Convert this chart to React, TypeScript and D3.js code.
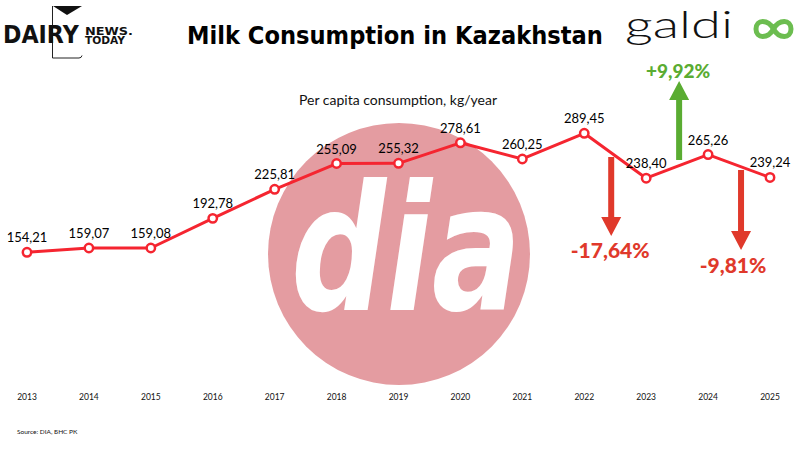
import React from "react";
import * as d3 from "d3";

const years = ["2013","2014","2015","2016","2017","2018","2019","2020","2021","2022","2023","2024","2025"];
const values = [154.21,159.07,159.08,192.78,225.81,255.09,255.32,278.61,260.25,289.45,238.40,265.26,239.24];
const valueLabels = ["154,21","159,07","159,08","192,78","225,81","255,09","255,32","278,61","260,25","289,45","238,40","265,26","239,24"];
// annotations: change between two years
const changes = [
  { from: "2022", to: "2023", label: "-17,64%", dir: "down" },
  { from: "2023", to: "2024", label: "+9,92%", dir: "up" },
  { from: "2024", to: "2025", label: "-9,81%", dir: "down" },
];

const W = 800, H = 451;
const RED = "#f52530";
const ARROW_RED = "#e0392b";
const GREEN = "#5aac32";

export default function App() {
  const x = d3.scalePoint<string>().domain(years).range([27, 770]);
  const y = d3.scaleLinear().domain([0, 300]).range([388, 124]);
  const data = years.map((yr, i) => ({ yr, v: values[i], lab: valueLabels[i] }));
  const line = d3.line<{ yr: string; v: number }>().x(d => x(d.yr)!).y(d => y(d.v));

  const arrow = (cx: number, y1: number, y2: number, color: string, up: boolean, key: string) => {
    const hw = 10, sw = 3, hl = 19;
    const pts = up
      ? [[cx - sw, y1], [cx - sw, y2 + hl], [cx - hw, y2 + hl], [cx, y2], [cx + hw, y2 + hl], [cx + sw, y2 + hl], [cx + sw, y1]]
      : [[cx - sw, y1], [cx - sw, y2 - hl], [cx - hw, y2 - hl], [cx, y2], [cx + hw, y2 - hl], [cx + sw, y2 - hl], [cx + sw, y1]];
    return <polygon key={key} points={pts.map(p => p.join(",")).join(" ")} fill={color} />;
  };

  const mid = (a: string, b: string) => (x(a)! + x(b)!) / 2;

  return (
    <svg width={W} height={H} style={{ position: "absolute", left: 0, top: 0, background: "#fff" }}
      fontFamily="Lato, 'DejaVu Sans', sans-serif">
      <rect width={W} height={H} fill="#fff" />
      {/* DIA watermark */}
      <circle cx={399} cy={254} r={131} fill="#e49ca1" />
      <text transform="translate(291,310) scale(1,1.32)" fill="#fff" fontSize={133} fontWeight={700} fontStyle="italic"
        fontFamily="'DejaVu Sans', sans-serif">dia</text>

      {/* Dairy News Today logo */}
      <line x1={52.5} y1={6} x2={52.5} y2={58} stroke="#222" strokeWidth={1} />
      <polygon points="53,6 82,6 67,15" fill="#111" />
      <path d="M52.5,58 L79,58 Q81.5,58 82,55.5" fill="none" stroke="#222" strokeWidth={1} />
      <text transform="translate(3,43) scale(1,1.13)" fontSize={22.2} fontWeight={900} fill="#111"
        fontFamily="'DejaVu Sans', sans-serif">DAIRY</text>
      <text x={85} y={34.5} fontSize={10} fontWeight={700} fill="#111" fontFamily="'DejaVu Sans', sans-serif"
        textLength={48} lengthAdjust="spacingAndGlyphs">NEWS.</text>
      <text x={85} y={44} fontSize={10} fontWeight={700} fill="#111" fontFamily="'DejaVu Sans', sans-serif"
        textLength={40} lengthAdjust="spacingAndGlyphs">TODAY</text>

      {/* Title */}
      <text transform="translate(187,44) scale(1,1.1)" fontSize={22.6} fontWeight={900} fill="#000"
        fontFamily="'DejaVu Sans', sans-serif">Milk Consumption in Kazakhstan</text>

      {/* galdi logo */}
      <text x={625} y={38} fontSize={37} fontWeight={300} fill="#111" fontFamily="Lato, sans-serif"
        textLength={108} lengthAdjust="spacingAndGlyphs">galdi</text>
      <path d="M773.5,29 C768,19 756,19 756,29 C756,39 768,39 773.5,29 C779,19 791,19 791,29 C791,39 779,39 773.5,29 Z"
        fill="none" stroke="#6cbd50" strokeWidth={5} />

      {/* Subtitle */}
      <text x={398} y={105} textAnchor="middle" fontSize={14} fill="#111">Per capita consumption, kg/year</text>

      {/* Line */}
      <path d={line(data)!} fill="none" stroke={RED} strokeWidth={3} strokeLinejoin="round" />
      {data.map(d => (
        <circle key={d.yr} cx={x(d.yr)} cy={y(d.v)} r={4.2} fill="#fff" stroke={RED} strokeWidth={2.5} />
      ))}
      {data.map(d => (
        <text key={"l" + d.yr} x={x(d.yr)} y={y(d.v) - 10} textAnchor="middle" fontSize={13} fill="#000">{d.lab}</text>
      ))}

      {/* Year axis labels */}
      {years.map(yr => (
        <text key={"y" + yr} x={x(yr)} y={400} textAnchor="middle" fontSize={8.5} fill="#111">{yr}</text>
      ))}

      {/* Change annotations */}
      {arrow(mid(changes[0].from, changes[0].to) - 4, 157, 236, ARROW_RED, false, "a0")}
      <text x={mid(changes[0].from, changes[0].to) - 5} y={258} textAnchor="middle" fontSize={21} fontWeight={900}
        fill={ARROW_RED}>{changes[0].label}</text>
      {arrow(mid(changes[1].from, changes[1].to) + 2, 160, 81, GREEN, true, "a1")}
      <text x={mid(changes[1].from, changes[1].to) + 1} y={78} textAnchor="middle" fontSize={19} fontWeight={900}
        fill={GREEN}>{changes[1].label}</text>
      {arrow(mid(changes[2].from, changes[2].to) + 2, 170, 250, ARROW_RED, false, "a2")}
      <text x={mid(changes[2].from, changes[2].to) - 6} y={273} textAnchor="middle" fontSize={21} fontWeight={900}
        fill={ARROW_RED}>{changes[2].label}</text>

      {/* Source */}
      <text x={17} y={434} fontSize={6.5} fill="#111">Source: DIA, БНС РК</text>
    </svg>
  );
}
